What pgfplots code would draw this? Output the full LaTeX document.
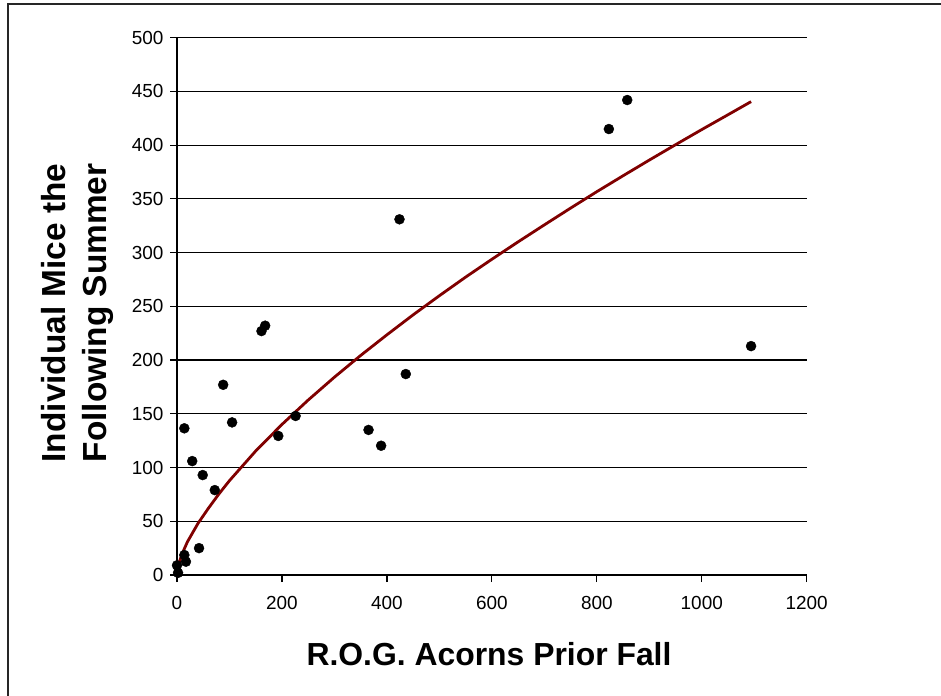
\documentclass[border=0pt]{standalone}
\usepackage{fontspec}
\setmainfont{Liberation Sans}
\usepackage{pgfplots}
\pgfplotsset{compat=1.18}
\definecolor{trend}{RGB}{128,0,0}
\begin{document}
\begin{tikzpicture}
\useasboundingbox (0,0) rectangle (941bp,696bp);
\draw[line width=2bp, black!85] (8bp,0) -- (8bp,692bp) -- (941bp,692bp);
\begin{axis}[
  at={(177bp,121bp)}, anchor=south west,
  scale only axis, width=629.7bp, height=537.3bp,
  xmin=0, xmax=1200, ymin=0, ymax=500,
  xtick={0,200,...,1200}, ytick={0,50,...,500},
  axis x line*=bottom, axis y line*=left,
  axis line style={line width=1.2bp, black, -},
  ymajorgrids, grid style={line width=1.2bp, black},
  tick align=outside, major tick length=7bp,
  tick style={line width=1.2bp, black},
  /pgf/number format/assume math mode=true,
  /pgf/number format/1000 sep={},
  tick label style={font=\fontsize{19}{22}\selectfont},
  xticklabel style={yshift=-11bp},
  yticklabel style={xshift=-3bp},
  clip=false,
]
\addplot[only marks, mark=*, mark size=5bp, black] coordinates {
(0,9) (2,2) (14,18.6) (17,12.4) (42,25) (14,136.5) (29,106) (49,93) (72,79)
(105,142) (193,129.4) (226,148) (88,177) (161,227) (168,232)
(365,135) (389,120.3) (436,187) (424,331) (823,415) (858,442) (1094,213)
};
\addplot[trend, line width=2.8bp] coordinates {
(1,4.5) (3,9) (5,13) (10,20) (20,31) (40,48) (60,62.2) (80,75.5) (100,87.8)
(150,115.4) (200,140.1) (250,162.8) (300,184.1) (350,204.3) (400,223.5)
(450,242.1) (500,259.9) (550,277.2) (600,293.8) (650,310) (700,325.8)
(750,341.4) (800,356.7) (850,371.5) (900,386.1) (950,400.4) (1000,414.5)
(1050,428.3) (1094,440.5)
};
\end{axis}
\node[anchor=base, font=\fontsize{32}{38}\selectfont\bfseries] at (489bp,31bp) {R.O.G. Acorns Prior Fall};
\node[anchor=base, rotate=90, font=\fontsize{33.5}{38}\selectfont\bfseries] at (65bp,383bp) {Individual Mice the};
\node[anchor=base, rotate=90, font=\fontsize{33.5}{38}\selectfont\bfseries] at (106bp,383bp) {Following Summer};
\end{tikzpicture}
\end{document}
